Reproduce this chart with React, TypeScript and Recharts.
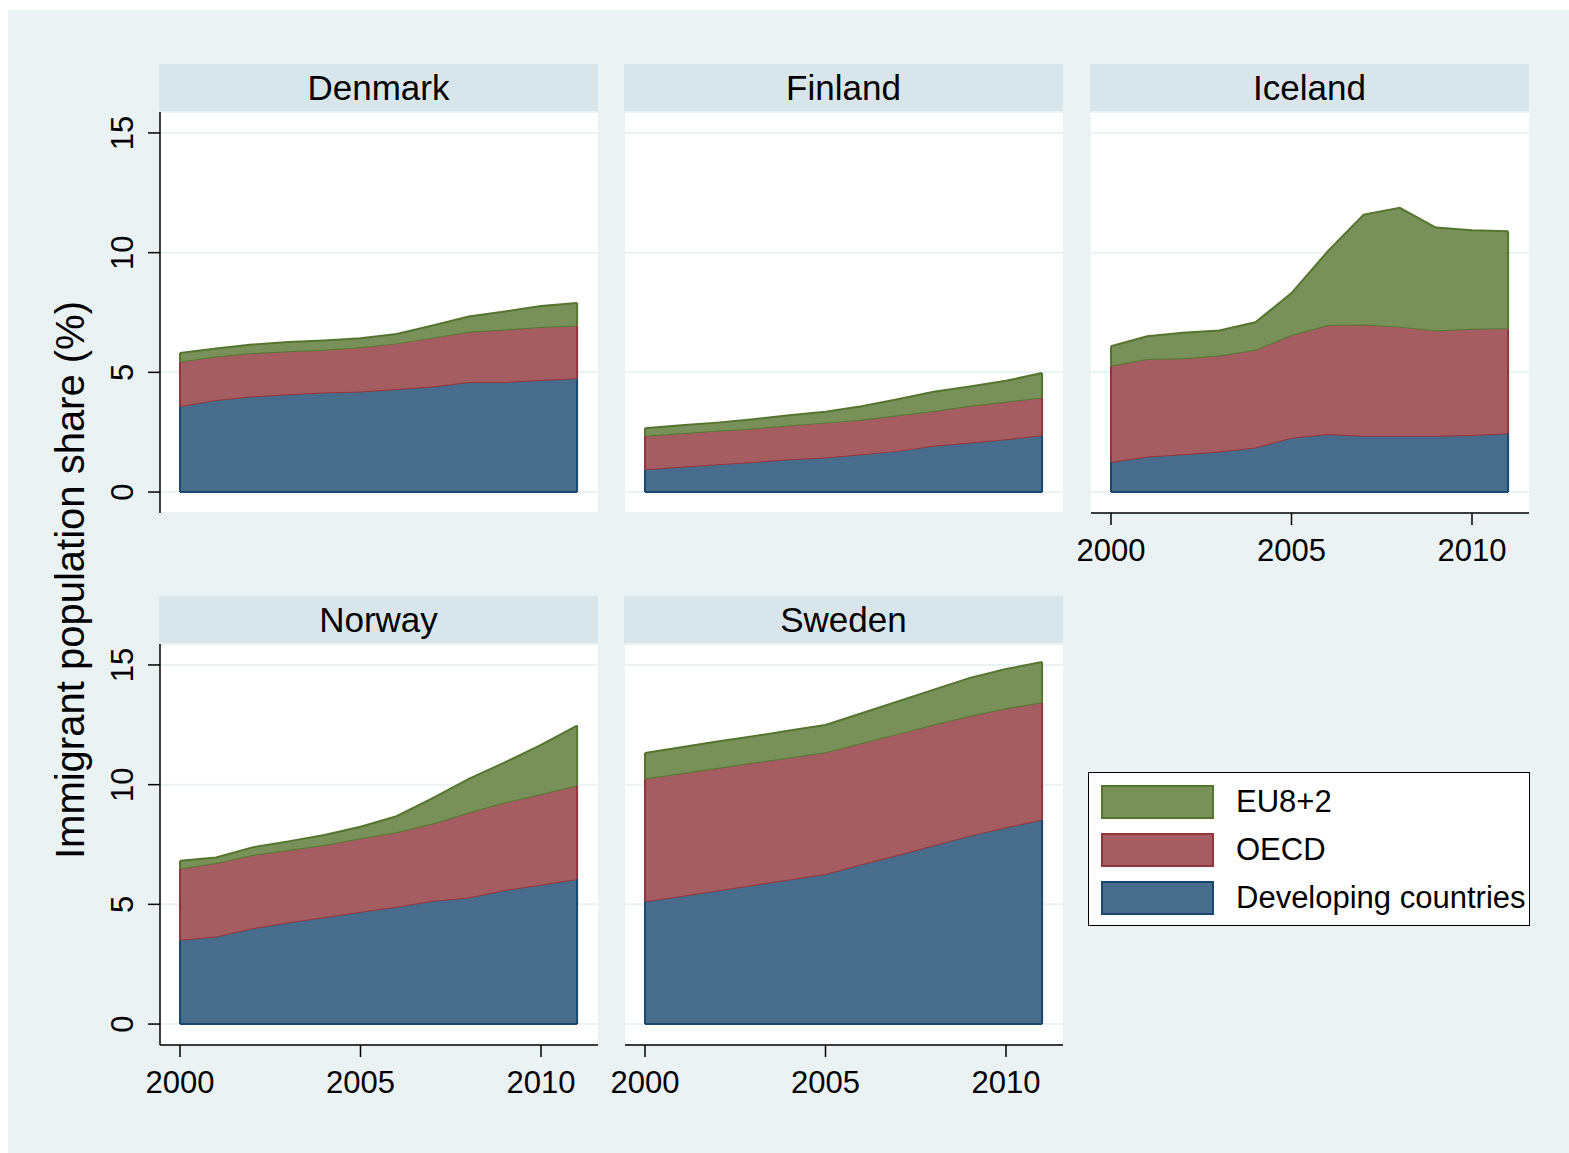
import { Area, AreaChart, CartesianGrid, ReferenceLine, XAxis, YAxis } from 'recharts';

const YEARS = [2000, 2001, 2002, 2003, 2004, 2005, 2006, 2007, 2008, 2009, 2010, 2011];
const X_TICKS = [2000, 2005, 2010];
const Y_TICKS = [0, 5, 10, 15];

// shares in % of population
const denmarkDev = [3.58, 3.85, 4.0, 4.09, 4.16, 4.2, 4.3, 4.41, 4.6, 4.6, 4.68, 4.75];
const denmarkOecd = [1.87, 1.81, 1.81, 1.79, 1.78, 1.85, 1.91, 2.04, 2.1, 2.19, 2.21, 2.21];
const denmarkEu = [0.36, 0.34, 0.35, 0.39, 0.39, 0.37, 0.39, 0.51, 0.63, 0.75, 0.88, 0.94];

const finlandDev = [0.95, 1.06, 1.16, 1.26, 1.37, 1.44, 1.58, 1.72, 1.93, 2.07, 2.21, 2.37];
const finlandOecd = [1.4, 1.4, 1.4, 1.39, 1.42, 1.46, 1.44, 1.49, 1.46, 1.53, 1.56, 1.58];
const finlandEu = [0.32, 0.33, 0.34, 0.39, 0.42, 0.45, 0.56, 0.67, 0.8, 0.81, 0.88, 1.02];

const icelandDev = [1.26, 1.48, 1.58, 1.69, 1.86, 2.27, 2.42, 2.35, 2.35, 2.35, 2.38, 2.46];
const icelandOecd = [4.02, 4.08, 4.01, 4.01, 4.08, 4.29, 4.56, 4.65, 4.56, 4.4, 4.44, 4.38];
const icelandEu = [0.81, 0.95, 1.06, 1.05, 1.15, 1.75, 3.07, 4.59, 4.96, 4.3, 4.12, 4.05];

const norwayDev = [3.52, 3.66, 4.0, 4.25, 4.46, 4.69, 4.9, 5.15, 5.29, 5.6, 5.82, 6.06];
const norwayOecd = [2.98, 3.07, 3.06, 3.02, 3.02, 3.07, 3.11, 3.23, 3.55, 3.66, 3.79, 3.9];
const norwayEu = [0.32, 0.23, 0.32, 0.36, 0.42, 0.48, 0.67, 1.06, 1.4, 1.67, 2.05, 2.51];

const swedenDev = [5.13, 5.35, 5.58, 5.81, 6.04, 6.27, 6.67, 7.06, 7.47, 7.87, 8.22, 8.54];
const swedenOecd = [5.13, 5.13, 5.12, 5.11, 5.09, 5.08, 5.07, 5.06, 5.04, 5.01, 4.97, 4.9];
const swedenEu = [1.06, 1.08, 1.1, 1.1, 1.13, 1.14, 1.24, 1.35, 1.46, 1.58, 1.64, 1.68];

const FONT = '"Liberation Sans", Arial, sans-serif';
const BG = '#eaf2f3';
const STRIP = '#d8e5ea';

// stata s2color: line colour + 80% intensity fill
const C = {
  dev: { line: '#1a476f', fill: '#486c8c' },
  oecd: { line: '#90353b', fill: '#a65d62' },
  eu: { line: '#55752f', fill: '#779159' },
};

const PLOT_W = 438;
const PLOT_H = 401;
const Y_AXIS_W = 80;
const X_AXIS_H = 60;
const PAD = 40; // room for the first year label when there is no y axis

const PANELS = [
  { name: 'Denmark', dev: denmarkDev, oecd: denmarkOecd, eu: denmarkEu, left: 160, top: 112, showY: true, showX: false },
  { name: 'Finland', dev: finlandDev, oecd: finlandOecd, eu: finlandEu, left: 625, top: 112, showY: false, showX: false },
  { name: 'Iceland', dev: icelandDev, oecd: icelandOecd, eu: icelandEu, left: 1091, top: 112, showY: false, showX: true },
  { name: 'Norway', dev: norwayDev, oecd: norwayOecd, eu: norwayEu, left: 160, top: 644, showY: true, showX: true },
  { name: 'Sweden', dev: swedenDev, oecd: swedenOecd, eu: swedenEu, left: 625, top: 644, showY: false, showX: true },
];

const LEGEND = [
  { label: 'EU8+2', ...C.eu },
  { label: 'OECD', ...C.oecd },
  { label: 'Developing countries', ...C.dev },
];

function XTick(props: any) {
  const { x, y, payload } = props;
  return (
    <text x={x} y={y} textAnchor="middle" dominantBaseline="central" fontSize={31} fontFamily={FONT} fill="#000">
      {payload.value}
    </text>
  );
}

function YTick(props: any) {
  const { x, y, payload } = props;
  return (
    <text
      x={x} y={y} textAnchor="middle" dominantBaseline="central"
      transform={`rotate(-90, ${x}, ${y})`}
      fontSize={31} fontFamily={FONT} fill="#000"
    >
      {payload.value}
    </text>
  );
}

function Panel({ p }: { p: (typeof PANELS)[number] }) {
  const rows = YEARS.map((year, i) => ({ year, dev: p.dev[i], oecd: p.oecd[i], eu: p.eu[i] }));
  const last = YEARS.length - 1;
  const first = YEARS[0];
  const end = YEARS[last];
  const d0 = p.dev[0], o0 = d0 + p.oecd[0], e0 = o0 + p.eu[0];
  const d1 = p.dev[last], o1 = d1 + p.oecd[last], e1 = o1 + p.eu[last];
  const leftPad = p.showY ? 0 : PAD;
  const leftExtra = p.showY ? Y_AXIS_W : PAD;
  const w = PLOT_W + leftExtra;
  const h = PLOT_H + (p.showX ? X_AXIS_H : 0);
  const axisStyle = { stroke: '#000', strokeWidth: 1.5 };

  return (
    <>
      <div
        style={{
          position: 'absolute', left: p.left - 1, top: p.top - 48, width: PLOT_W + 1, height: 47,
          background: STRIP, display: 'flex', alignItems: 'center', justifyContent: 'center',
          fontFamily: FONT, fontSize: 35, color: '#000',
        }}
      >
        {p.name}
      </div>
      <div style={{ position: 'absolute', left: p.left - leftExtra, top: p.top }}>
        <AreaChart width={w} height={h} data={rows} margin={{ top: 0, right: 0, bottom: 0, left: leftPad }}>
          <CartesianGrid vertical={false} stroke={BG} strokeWidth={2} fill="#fff" fillOpacity={1} />
          <XAxis
            hide={!p.showX} type="number" dataKey="year" domain={[1999.446, 2011.579]} ticks={X_TICKS}
            allowDataOverflow height={X_AXIS_H} tickSize={12} tickMargin={25}
            axisLine={axisStyle} tickLine={axisStyle} tick={XTick} interval={0}
          />
          <YAxis
            hide={!p.showY} type="number" domain={[-0.875, 15.875]} ticks={Y_TICKS}
            allowDataOverflow width={Y_AXIS_W} tickSize={12} tickMargin={25}
            axisLine={axisStyle} tickLine={axisStyle} tick={YTick} interval={0}
          />
          <Area
            type="linear" dataKey="dev" stackId="s" fill={C.dev.fill} fillOpacity={1}
            stroke={C.oecd.line} strokeWidth={2} isAnimationActive={false}
          />
          <Area
            type="linear" dataKey="oecd" stackId="s" fill={C.oecd.fill} fillOpacity={1}
            stroke={C.eu.line} strokeWidth={2} isAnimationActive={false}
          />
          <Area
            type="linear" dataKey="eu" stackId="s" fill={C.eu.fill} fillOpacity={1}
            stroke={C.eu.line} strokeWidth={2} isAnimationActive={false}
          />
          {/* polygon outlines on the sides and baseline, like stata draws them */}
          <ReferenceLine segment={[{ x: first, y: 0 }, { x: end, y: 0 }]} stroke={C.dev.line} strokeWidth={2} />
          <ReferenceLine segment={[{ x: first, y: 0 }, { x: first, y: d0 }]} stroke={C.dev.line} strokeWidth={2} />
          <ReferenceLine segment={[{ x: end, y: 0 }, { x: end, y: d1 }]} stroke={C.dev.line} strokeWidth={2} />
          <ReferenceLine segment={[{ x: first, y: d0 }, { x: first, y: o0 }]} stroke={C.oecd.line} strokeWidth={2} />
          <ReferenceLine segment={[{ x: end, y: d1 }, { x: end, y: o1 }]} stroke={C.oecd.line} strokeWidth={2} />
          <ReferenceLine segment={[{ x: first, y: o0 }, { x: first, y: e0 }]} stroke={C.eu.line} strokeWidth={2} />
          <ReferenceLine segment={[{ x: end, y: o1 }, { x: end, y: e1 }]} stroke={C.eu.line} strokeWidth={2} />
        </AreaChart>
      </div>
    </>
  );
}

export default function App() {
  return (
    <div style={{ position: 'absolute', left: 0, top: 0, width: 1569, height: 1153, background: '#fff', overflow: 'hidden' }}>
      <div style={{ position: 'absolute', left: 8, top: 10, width: 1561, height: 1143, background: BG }} />

      <div
        style={{
          position: 'absolute', left: 70, top: 580, transform: 'translate(-50%, -50%) rotate(-90deg)',
          whiteSpace: 'nowrap', fontFamily: FONT, fontSize: 40, color: '#000', lineHeight: 1,
        }}
      >
        Immigrant population share (%)
      </div>

      {PANELS.map((p) => (
        <Panel key={p.name} p={p} />
      ))}

      <div
        style={{
          position: 'absolute', left: 1088, top: 772, width: 440, height: 152,
          background: '#fff', border: '1.5px solid #000',
        }}
      >
        {LEGEND.map((item, i) => (
          <div key={item.label} style={{ position: 'absolute', left: 12, top: 12 + i * 48, height: 34, display: 'flex', alignItems: 'center' }}>
            <div style={{ width: 109, height: 30, background: item.fill, border: `2px solid ${item.line}` }} />
            <span style={{ marginLeft: 22, fontFamily: FONT, fontSize: 31, color: '#000', whiteSpace: 'nowrap' }}>{item.label}</span>
          </div>
        ))}
      </div>
    </div>
  );
}
